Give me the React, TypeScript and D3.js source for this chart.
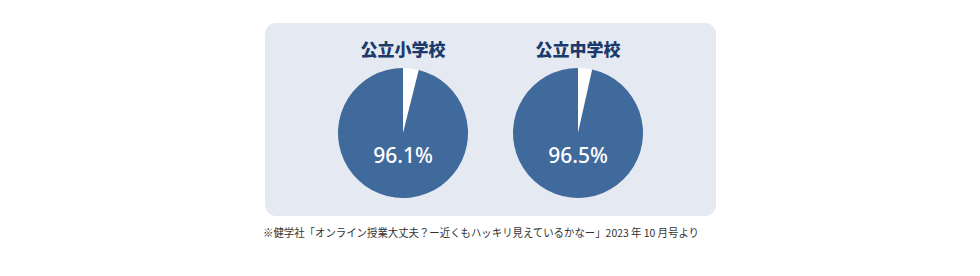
import { useRef, useEffect } from "react";
import * as d3 from "d3";

const schools = ["公立小学校", "公立中学校"];
const rates = [96.1, 96.5];
const note = "※健学社「オンライン授業大丈夫？ー近くもハッキリ見えているかなー」2023 年 10 月号より";

export default function App() {
  const svgRef = useRef<SVGSVGElement>(null);
  const width = 980;
  const height = 276;

  useEffect(() => {
    if (!svgRef.current) return;
    const svg = d3.select(svgRef.current);
    svg.selectAll("*").remove();

    const font = "'Noto Sans CJK JP', 'Noto Sans', sans-serif";

    // background panel
    svg
      .append("rect")
      .attr("x", 265)
      .attr("y", 23)
      .attr("width", 451)
      .attr("height", 193)
      .attr("rx", 11)
      .attr("fill", "#e5eaf2");

    const x = d3.scalePoint<string>().domain(schools).range([403, 578]);
    const radius = 65;
    const cy = 133;

    const pie = d3
      .pie<{ key: string; value: number }>()
      .sort(null)
      .value((d) => d.value);
    const arc = d3
      .arc<d3.PieArcDatum<{ key: string; value: number }>>()
      .innerRadius(0)
      .outerRadius(radius);

    schools.forEach((name, i) => {
      const cx = x(name) as number;
      const g = svg.append("g").attr("transform", `translate(${cx},${cy})`);
      const parts = [
        { key: "rest", value: 100 - rates[i] },
        { key: "yes", value: rates[i] },
      ];
      g.selectAll("path")
        .data(pie(parts))
        .enter()
        .append("path")
        .attr("d", arc)
        .attr("fill", (d) => (d.data.key === "yes" ? "#40699c" : "#ffffff"));

      g.append("text")
        .attr("x", 0)
        .attr("y", 30)
        .attr("text-anchor", "middle")
        .attr("font-family", "'Noto Sans', sans-serif")
        .attr("font-size", 21)
        .attr("font-weight", 500)
        .attr("fill", "#ffffff")
        .text(`${rates[i]}%`);

      svg
        .append("text")
        .attr("x", cx)
        .attr("y", 56)
        .attr("text-anchor", "middle")
        .attr("font-family", font)
        .attr("font-size", 17)
        .attr("font-weight", 900)
        .attr("fill", "#1b3a6b")
        .text(name);
    });

    svg
      .append("text")
      .attr("x", 263)
      .attr("y", 237)
      .attr("font-family", font)
      .attr("font-size", 11)
      .attr("fill", "#333333")
      .attr("textLength", 436)
      .attr("lengthAdjust", "spacingAndGlyphs")
      .text(note);
  }, []);

  return (
    <svg
      ref={svgRef}
      width={width}
      height={height}
      style={{ position: "absolute", left: 0, top: 0, background: "#ffffff" }}
    />
  );
}
